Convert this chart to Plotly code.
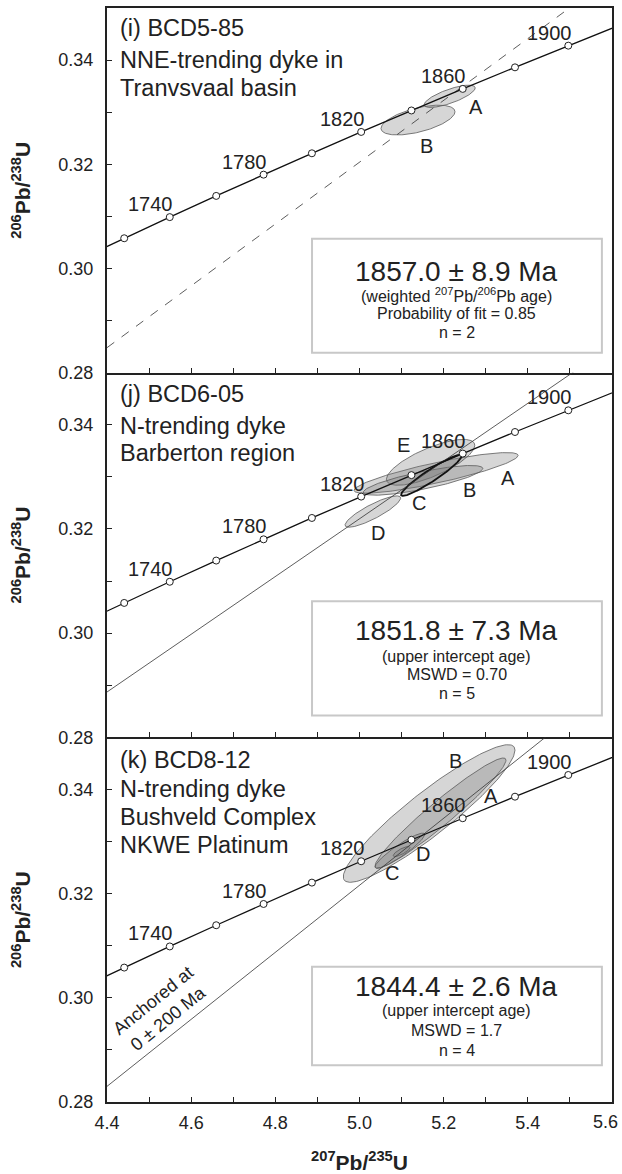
import numpy as np
import plotly.graph_objects as go
from plotly.subplots import make_subplots

# ---------------- data ----------------
# Concordia reference points (age in Ma, 207Pb/235U, 206Pb/238U)
conc_age = [1700, 1720, 1740, 1760, 1780, 1800, 1820, 1840, 1860, 1880, 1900, 1920]
conc_x = [4.3348, 4.4409, 4.5491, 4.6595, 4.7721, 4.8869, 5.0040, 5.1234, 5.2453, 5.3695, 5.4962, 5.6254]
conc_y = [0.30176, 0.30580, 0.30986, 0.31393, 0.31801, 0.32211, 0.32621, 0.33033, 0.33447, 0.33861, 0.34277, 0.34695]
marker_ages = [1720, 1740, 1760, 1780, 1800, 1820, 1840, 1860, 1880, 1900]
label_ages = [1740, 1780, 1820, 1860, 1900]

# Axis ticks (the last x label, at the very edge, is written as a right-aligned label)
x_tickvals = [4.4, 4.6, 4.8, 5.0, 5.2, 5.4, 5.6]
x_ticktext = ["4.4", "4.6", "4.8", "5.0", "5.2", "5.4", ""]
x_edge_label = "5.6"
x_minor = [4.5, 4.7, 4.9, 5.1, 5.3, 5.5]
y_tickvals = [0.28, 0.30, 0.32, 0.34]
y_ticktext = ["0.28", "0.30", "0.32", "0.34"]
y_minor = [0.29, 0.31, 0.33]

# Panel titles / descriptions
panel_titles = ["(i) BCD5-85", "(j) BCD6-05", "(k) BCD8-12"]
panel_desc = [["NNE-trending dyke in", "Tranvsvaal basin"],
              ["N-trending dyke", "Barberton region"],
              ["N-trending dyke", "Bushveld Complex", "NKWE Platinum"]]

# Age results
age_main = ["1857.0 ± 8.9 Ma", "1851.8 ± 7.3 Ma", "1844.4 ± 2.6 Ma"]
age_sub = [["(weighted <sup>207</sup>Pb/<sup>206</sup>Pb age)", "Probability of fit = 0.85", "n = 2"],
           ["(upper intercept age)", "MSWD = 0.70", "n = 5"],
           ["(upper intercept age)", "MSWD = 1.7", "n = 4"]]

# Discordia / reference lines (two end points each)
line_x = [[4.4, 5.6], [4.4, 5.6], [4.4, 5.6]]
line_y = [[0.2848, 0.3560], [0.2887, 0.3552], [0.2830, 0.3602]]

# Error ellipses: name, centre x, centre y, half-extent x, half-extent y, rho
ell_i_name = ["B", "A"]
ell_i_cx = [5.139, 5.2143]
ell_i_cy = [0.32849, 0.33305]
ell_i_sx = [0.0879, 0.0607]
ell_i_sy = [0.00286, 0.00214]
ell_i_rho = [0.56, 0.75]
lab_i_x = [5.1603, 5.2768]
lab_i_y = [0.32346, 0.33096]

ell_j_name = ["A", "E", "B", "D", "C"]
ell_j_cx = [5.182, 5.169, 5.151, 5.0317, 5.1707]
ell_j_cy = [0.33076, 0.33279, 0.32933, 0.32334, 0.33029]
ell_j_sx = [0.195, 0.105, 0.142, 0.066, 0.072]
ell_j_sy = [0.0039, 0.00440, 0.00285, 0.00301, 0.00394]
ell_j_rho = [0.86, 0.74, 0.80, 0.86, 0.94]
lab_j_x = [5.352, 5.104, 5.2625, 5.043, 5.142]
lab_j_y = [0.32975, 0.33615, 0.32750, 0.31917, 0.32494]

ell_k_name = ["B", "A", "C", "D"]
ell_k_cx = [5.1655, 5.1924, 5.096, 5.100]
ell_k_cy = [0.33538, 0.33545, 0.32824, 0.32808]
ell_k_sx = [0.204, 0.1556, 0.059, 0.020]
ell_k_sy = [0.01321, 0.01058, 0.00337, 0.00096]
ell_k_rho = [0.92, 0.96, 0.92, 0.80]
lab_k_x = [5.227, 5.3124, 5.0764, 5.1516]
lab_k_y = [0.34538, 0.33879, 0.32390, 0.32763]

panels = [
    (ell_i_name, ell_i_cx, ell_i_cy, ell_i_sx, ell_i_sy, ell_i_rho, lab_i_x, lab_i_y),
    (ell_j_name, ell_j_cx, ell_j_cy, ell_j_sx, ell_j_sy, ell_j_rho, lab_j_x, lab_j_y),
    (ell_k_name, ell_k_cx, ell_k_cy, ell_k_sx, ell_k_sy, ell_k_rho, lab_k_x, lab_k_y),
]

# ---------------- layout constants ----------------
FONT = "Liberation Sans, Arial, Helvetica, sans-serif"
TXT = "#222222"
title_y = [[0.945, 0.8575, 0.781], [0.9425, 0.855, 0.781], [0.937, 0.8575, 0.781, 0.704]]
box_y = [(0.0548, 0.367), (0.060, 0.373), (0.101, 0.371)]
main_y = [0.2767, 0.293, 0.316]
sub_y = [[0.2137, 0.1616, 0.1096], [0.222, 0.1726, 0.1205], [0.250, 0.1953, 0.1425]]

fig = make_subplots(rows=3, cols=1, shared_xaxes=False, vertical_spacing=0)

t = np.linspace(0, 2 * np.pi, 181)
for p, (names, cx, cy, sx, sy, rho, lx, ly) in enumerate(panels):
    row = p + 1
    # ellipses
    for k in range(len(names)):
        ex = cx[k] + sx[k] * np.cos(t)
        ey = cy[k] + sy[k] * (rho[k] * np.cos(t) + np.sqrt(1 - rho[k] ** 2) * np.sin(t))
        thick = (p == 1 and names[k] == "C")
        fig.add_trace(go.Scatter(
            x=ex, y=ey, mode="lines", fill="toself",
            fillcolor="rgba(120,120,120,0.30)",
            line=dict(color="#111111" if thick else "#5a5a5a", width=1.8 if thick else 0.8),
            hoverinfo="skip", showlegend=False), row=row, col=1)
    # discordia / reference line
    fig.add_trace(go.Scatter(
        x=line_x[p], y=line_y[p], mode="lines",
        line=dict(color="#333333", width=0.8, dash="dash" if p == 0 else "solid"),
        hoverinfo="skip", showlegend=False), row=row, col=1)
    # concordia curve
    fig.add_trace(go.Scatter(
        x=conc_x, y=conc_y, mode="lines",
        line=dict(color="#111111", width=1.3),
        hoverinfo="skip", showlegend=False), row=row, col=1)
    mx = [conc_x[conc_age.index(a)] for a in marker_ages]
    my = [conc_y[conc_age.index(a)] for a in marker_ages]
    fig.add_trace(go.Scatter(
        x=mx, y=my, mode="markers",
        marker=dict(symbol="circle", size=7, color="white", line=dict(color="#222222", width=1)),
        hoverinfo="skip", showlegend=False), row=row, col=1)

    xr = "x" if row == 1 else f"x{row}"
    yr = "y" if row == 1 else f"y{row}"
    # age labels on concordia
    for a in label_ages:
        i = conc_age.index(a)
        fig.add_annotation(x=conc_x[i], y=conc_y[i], xref=xr, yref=yr, text=str(a),
                           showarrow=False, xshift=-19, yshift=13,
                           xanchor="center", yanchor="middle",
                           font=dict(family=FONT, size=20, color=TXT))
    # ellipse labels
    for k in range(len(names)):
        fig.add_annotation(x=lx[k], y=ly[k], xref=xr, yref=yr, text=names[k],
                           showarrow=False, xanchor="center", yanchor="middle",
                           font=dict(family=FONT, size=20, color=TXT))
    # panel titles
    lines = [panel_titles[p]] + panel_desc[p]
    for j, s in enumerate(lines):
        fig.add_annotation(x=0.021, y=title_y[p][j], xref=f"{xr} domain", yref=f"{yr} domain",
                           text=s, showarrow=False, xanchor="left", yanchor="middle",
                           font=dict(family=FONT, size=23.5, color=TXT))
    # result box
    fig.add_shape(type="rect", xref=f"{xr} domain", yref=f"{yr} domain",
                  x0=0.406, x1=0.980, y0=box_y[p][0], y1=box_y[p][1],
                  line=dict(color="#c8c8c8", width=2), fillcolor="white", layer="below")
    fig.add_annotation(x=0.693, y=main_y[p], xref=f"{xr} domain", yref=f"{yr} domain",
                       text=age_main[p], showarrow=False, xanchor="center", yanchor="middle",
                       font=dict(family=FONT, size=28, color=TXT))
    for j, s in enumerate(age_sub[p]):
        fig.add_annotation(x=0.693, y=sub_y[p][j], xref=f"{xr} domain", yref=f"{yr} domain",
                           text=s, showarrow=False, xanchor="center", yanchor="middle",
                           font=dict(family=FONT, size=16, color=TXT))

# anchored text in panel k
fig.add_annotation(x=4.527, y=0.2977, xref="x3", yref="y3",
                   text="Anchored at<br>0 ± 200 Ma", showarrow=False, textangle=-39,
                   xanchor="center", yanchor="middle",
                   font=dict(family=FONT, size=18, color=TXT))

# right-most x tick label, kept inside the page
fig.add_annotation(x=1.0158, y=-0.0183, xref="paper", yref="paper", text=x_edge_label,
                   showarrow=False, xanchor="right", yanchor="middle",
                   font=dict(family=FONT, size=18, color=TXT))

ytitle = "<b><sup>206</sup>Pb/<sup>238</sup>U</b>"
for row in (1, 2, 3):
    fig.update_xaxes(row=row, col=1, range=[4.4, 5.60001], showline=True, mirror=(row == 1),
                     linecolor="#222222", linewidth=2, ticks="inside", ticklen=5,
                     tickcolor="#222222", tickvals=x_tickvals, ticktext=x_ticktext,
                     showticklabels=(row == 3), showgrid=False, zeroline=False,
                     minor=dict(tickvals=x_minor, ticks="inside",
                                ticklen=5, tickcolor="#222222"),
                     tickfont=dict(family=FONT, size=18, color=TXT),
                     ticklabelstandoff=3, automargin=False)
    fig.update_yaxes(row=row, col=1, range=[0.28, 0.35], showline=True, mirror=True,
                     linecolor="#222222", linewidth=2, ticks="inside", ticklen=5,
                     tickcolor="#222222", tickvals=y_tickvals,
                     ticktext=y_ticktext, showgrid=False, zeroline=False,
                     minor=dict(tickvals=y_minor, ticks="inside", ticklen=5,
                                tickcolor="#222222"),
                     tickfont=dict(family=FONT, size=18, color=TXT),
                     ticklabelstandoff=8, automargin=False,
                     title=dict(text=ytitle, font=dict(family=FONT, size=21, color=TXT),
                                standoff=22))

fig.update_xaxes(row=3, col=1,
                 title=dict(text="<b><sup>207</sup>Pb/<sup>235</sup>U</b>",
                            font=dict(family=FONT, size=21, color=TXT), standoff=25))

fig.update_layout(width=622, height=1174, margin=dict(l=107, r=10, t=8, b=72),
                  paper_bgcolor="white", plot_bgcolor="white", showlegend=False)

# remove the page's default body margin so the figure sits at the window origin
fig.write_html("out.html", config={"displayModeBar": False},
               post_script="document.body.style.margin='0px';document.body.style.overflow='hidden';")
